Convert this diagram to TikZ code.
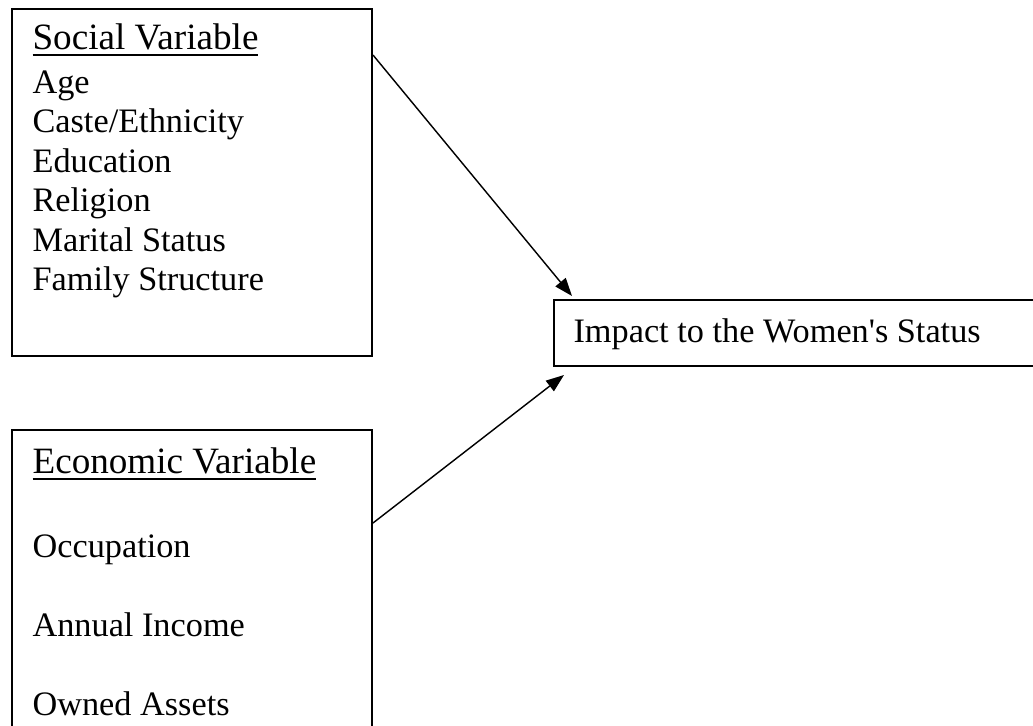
\documentclass[tikz,border=0pt]{standalone}
\usepackage{fontspec}
\setmainfont{Liberation Serif}[Ligatures=TeXOff]
\usetikzlibrary{arrows.meta,calc}
\newcommand\underl[1]{\setbox0\hbox{#1}\rlap{\rule[-2.3pt]{\wd0}{0.7pt}}\box0}

\begin{document}
\begin{tikzpicture}[x=0.35pt,y=-0.35pt,>={Triangle[length=6.3pt,width=4.6pt]},
        var box/.style={draw,line width=0.7pt,inner sep=0pt,anchor=north west},
        head text/.style={anchor=base west,inner sep=0pt,font=\fontsize{13}{15}\selectfont},
        item text/.style={anchor=base west,inner sep=0pt,font=\fontsize{12}{14}\selectfont}]
    \useasboundingbox (0,0) rectangle (1033,725);

    % the three boxes
    \node[var box,minimum width=126pt,minimum height=121.45pt] (social) at (11,8) {};
    \node[var box,minimum width=126pt,minimum height=115.85pt] (economic) at (11,429) {};
    \node[var box,minimum width=174pt,minimum height=23.1pt] (impact) at (553,299) {};

    % social variables
    \node[head text] (socialhead) at (32,49) {\underl{Social Variable}};
    \foreach \t [count=\i] in {Age,Caste/Ethnicity,Education,Religion,Marital Status,Family Structure}
        \node[item text] (s\i) at (32,{93+39.5*(\i-1)}) {\t};

    % economic variables
    \node[head text] (econhead) at (32,473) {\underl{Economic Variable}};
    \foreach \t [count=\i] in {Occupation,Annual Income,Owned Assets}
        \node[item text] (e\i) at (32,{557+79*(\i-1)}) {\t};

    \node[item text] (impacttext) at (573,342) {Impact to the Women's Status};

    \path[->,line width=0.5pt]
        ($(social.north east)+(0,47)$) edge ($(impact.north west)+(19,-3)$)
        ($(economic.north east)+(0,94)$) edge ($(impact.south west)+(11,8)$)
        ;
\end{tikzpicture}
\end{document}
